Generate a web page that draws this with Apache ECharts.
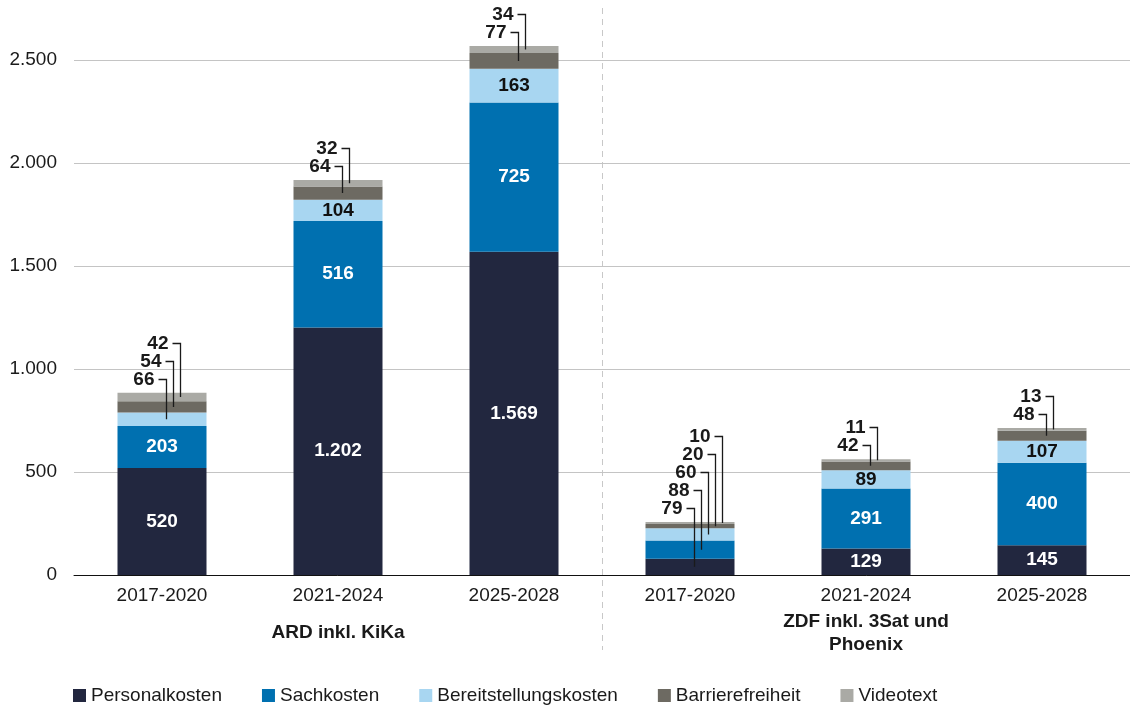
<!DOCTYPE html>
<html><head><meta charset="utf-8">
<script src="https://cdn.jsdelivr.net/npm/echarts@6/dist/echarts.min.js"></script>
<style>html,body{margin:0;padding:0;background:#fff}#c{width:1130px;height:709px}</style>
</head><body><div id="c"></div>
<script>
var categories = ['2017-2020','2021-2024','2025-2028','2017-2020','2021-2024','2025-2028'];
var groups = ['ARD inkl. KiKa','ZDF inkl. 3Sat und\nPhoenix'];
var seriesNames = ['Personalkosten','Sachkosten','Bereitstellungskosten','Barrierefreiheit','Videotext'];
var personal = [520, 1202, 1569, 79, 129, 145];
var sach = [203, 516, 725, 88, 291, 400];
var bereit = [66, 104, 163, 60, 89, 107];
var barriere = [54, 64, 77, 20, 42, 48];
var videotext = [42, 32, 34, 10, 11, 13];
// first series index (per category) whose value is shown as a callout above the bar
var calloutFrom = [2, 3, 3, 0, 3, 3];
var yTicks = [0, 500, 1000, 1500, 2000, 2500];

var colors = ['#22273f','#0070b0','#a8d6f1','#6d6a62','#aaaaa5'];
var labelColors = ['#ffffff','#ffffff','#111111','#111111','#111111'];
var values = [personal, sach, bereit, barriere, videotext];
var FONT = '"Liberation Sans", Arial, Helvetica, sans-serif';
var TXT = '#1a1a1a';

function fmt(v){ return String(v).replace(/\B(?=(\d{3})+(?!\d))/g, '.'); }

var series = values.map(function(arr, s){
  return {
    name: seriesNames[s], type: 'bar', stack: 'total', data: arr, barWidth: 89,
    clip: false, itemStyle: {color: colors[s], borderWidth: 0},
    label: {
      show: true, position: 'inside', color: labelColors[s],
      fontFamily: FONT, fontWeight: 'bold', fontSize: 19,
      formatter: function(p){ return s >= calloutFrom[p.dataIndex] ? '' : fmt(p.value); }
    }
  };
});

var calloutData = [];
categories.forEach(function(c, i){
  var total = 0; values.forEach(function(a){ total += a[i]; });
  var base = 0, k = 0;
  values.forEach(function(a, s){
    if (s >= calloutFrom[i]) { calloutData.push([i, k, base, a[i], total]); k++; }
    base += a[i];
  });
});

series.push({
  type: 'custom', silent: true, clip: false, z: 5,
  data: calloutData, encode: {x: 0, y: 2},
  renderItem: function(params, api){
    var i = api.value(0), k = api.value(1), base = api.value(2), val = api.value(3), total = api.value(4);
    var mid = api.coord([i, base + val / 2]);
    var top = api.coord([i, total]);
    var x = Math.round(mid[0] + 4 + 7 * k) + 0.5;
    var ly = Math.round(top[1] - 14 - 18 * k) + 0.5;
    return {type: 'group', children: [
      {type: 'polyline', shape: {points: [[x - 8, ly], [x, ly], [x, mid[1]]]},
       style: {stroke: '#1a1a1a', lineWidth: 1.3, fill: null}},
      {type: 'text', style: {text: fmt(val), x: x - 12, y: ly, align: 'right', verticalAlign: 'middle',
       fontFamily: FONT, fontWeight: 'bold', fontSize: 19, fill: TXT}}
    ]};
  }
});

var chart = echarts.init(document.getElementById('c'), null, {renderer: 'canvas'});
chart.setOption({
  animation: false,
  textStyle: {fontFamily: FONT},
  grid: {left: 74, right: 0, top: 60, bottom: 134, containLabel: false},
  legend: {
    data: seriesNames, left: 68, top: 681, itemWidth: 13, itemHeight: 13, itemGap: 40,
    icon: 'rect', textStyle: {fontFamily: FONT, fontSize: 19, color: TXT}
  },
  xAxis: [
    {type: 'category', data: categories, axisTick: {show: false},
     axisLine: {lineStyle: {color: '#111', width: 1}},
     axisLabel: {margin: 11, fontSize: 19, color: TXT, fontFamily: FONT}},
    {type: 'category', data: groups, position: 'bottom', axisTick: {show: false},
     axisLine: {show: false}, splitLine: {show: false},
     axisLabel: {margin: 58, verticalAlign: 'middle', fontSize: 19, fontWeight: 'bold', lineHeight: 23,
       color: TXT, fontFamily: FONT}}
  ],
  yAxis: {
    type: 'value', min: yTicks[0], max: yTicks[yTicks.length - 1], interval: 500,
    axisLine: {show: false}, axisTick: {show: false},
    splitLine: {lineStyle: {color: '#c4c4c4', width: 1}},
    axisLabel: {margin: 17, fontSize: 19, color: TXT, fontFamily: FONT, formatter: function(v){ return fmt(v); }}
  },
  graphic: [{
    type: 'line', shape: {x1: 602.5, y1: 8, x2: 602.5, y2: 650}, silent: true,
    style: {stroke: '#c8c8c8', lineWidth: 1, lineDash: [6, 5]}
  }],
  series: series
});
</script></body></html>
